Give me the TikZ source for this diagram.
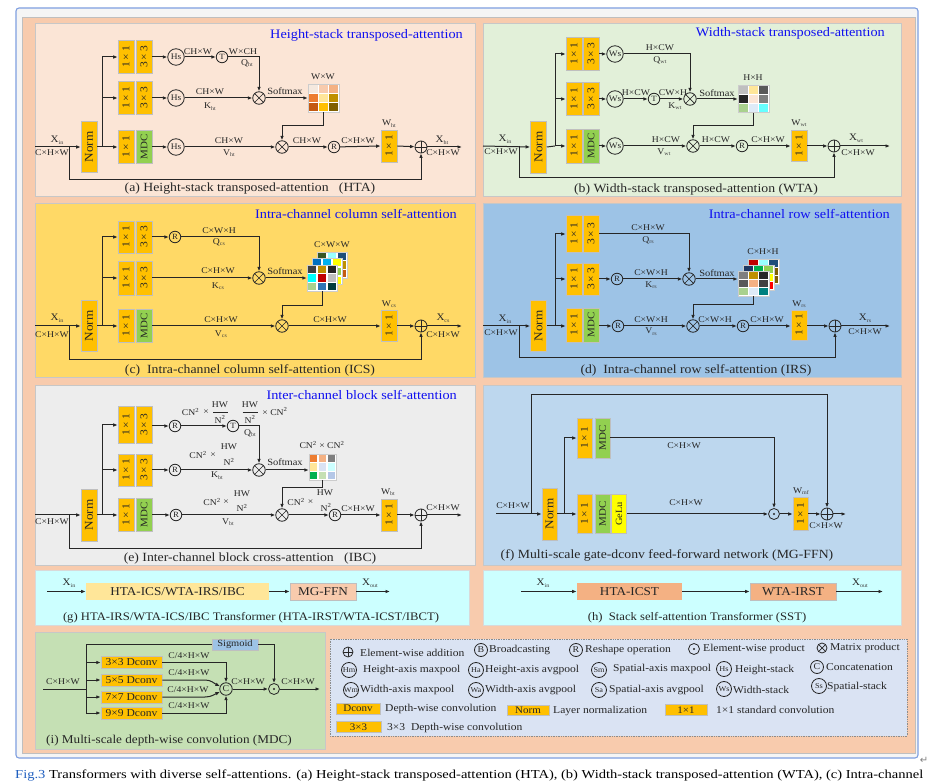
\documentclass[tikz,border=0pt]{standalone}
\usepackage{fontspec}
\setmainfont{Liberation Serif}[FakeStretch=1.1]
\newfontfamily\capfont{Liberation Serif}
\newfontfamily\symfont{DejaVu Sans}
\usetikzlibrary{arrows.meta,calc}
\definecolor{peach}{HTML}{F8CBAD}
\definecolor{pa}{HTML}{FBE5D6}
\definecolor{pb}{HTML}{E2F0D9}
\definecolor{pc}{HTML}{FFD966}
\definecolor{pd}{HTML}{9DC3E6}
\definecolor{pe}{HTML}{EDEDED}
\definecolor{pf}{HTML}{BDD7EE}
\definecolor{pg}{HTML}{CCFFFF}
\definecolor{pi}{HTML}{C5E0B4}
\definecolor{leg}{HTML}{DAE3F3}
\definecolor{org}{HTML}{FFC000}
\definecolor{grn}{HTML}{92D050}
\definecolor{ylw}{HTML}{FFFF00}
\definecolor{ttl}{HTML}{1010F0}
\definecolor{lnc}{HTML}{262626}
\definecolor{bord}{HTML}{BFBFBF}
\definecolor{frm}{HTML}{7F9FE0}
\definecolor{figb}{HTML}{1F5FC0}
\definecolor{lyel}{HTML}{FFE699}
\definecolor{sal}{HTML}{F4B183}
\definecolor{sig}{HTML}{9DC3E6}
\newcommand\fsz[1]{\fontsize{#1}{#1}\selectfont}
\newcommand\rotx[1]{\rotatebox{90}{#1}}
\newcommand\sbs[1]{\raisebox{-1.6pt}{\fsz{5.5}\color{black!75}#1}}
\newcommand\cellgrid[5]{%
  \fill[white] ({#1-#3/2},{#2-#4/2}) rectangle ({#1+#3/2},{#2+#4/2});
  \foreach \mycol [count=\gi from 0] in {#5} {
    \pgfmathsetmacro{\gx}{#1-#3/2+mod(\gi,3)*#3/3}
    \pgfmathsetmacro{\gy}{#2-#4/2+floor(\gi/3)*#4/3}
    \edef\tmpdef{\noexpand\definecolor{tmpc}{HTML}{\mycol}}\tmpdef
    \fill[tmpc] ({\gx+0.7},{\gy+0.7}) rectangle ({\gx+#3/3-0.7},{\gy+#4/3-0.7});
  }
  \draw[bord!80, line width=0.4pt] ({#1-#3/2},{#2-#4/2}) rectangle ({#1+#3/2},{#2+#4/2});
}
\tikzset{
 ln/.style={draw=lnc, line width=1pt},
 arr/.style={ln, -{Latex[length=4.5pt,width=3.6pt]}},
 panel/.style={draw=black!22, line width=1pt},
 cbox/.style={draw=bord, line width=0.6pt, fill=org, inner sep=0pt, minimum width=16, minimum height=33, font=\fsz{10.5}, text=lnc},
 gbox/.style={cbox, fill=grn, font=\fsz{10}},
 ybox/.style={cbox, fill=ylw, font=\fsz{9.5}},
 circ/.style={draw=lnc, line width=0.8pt, circle, inner sep=0pt, minimum size=16.5, font=\fsz{8.5}, text=lnc},
 scirc/.style={circ, minimum size=11.5, font=\fsz{8}},
 otim/.style={circle, draw=lnc, line width=0.8pt, minimum size=12.5, inner sep=0pt,
   path picture={\draw[lnc,line width=0.7pt] (path picture bounding box.north west)--(path picture bounding box.south east) (path picture bounding box.north east)--(path picture bounding box.south west);}},
 oplusst/.style={circle, draw=lnc, line width=0.8pt, minimum size=12, inner sep=0pt,
   path picture={\draw[lnc,line width=0.7pt] (path picture bounding box.north)--(path picture bounding box.south) (path picture bounding box.east)--(path picture bounding box.west);}},
 odotst/.style={circle, draw=lnc, line width=0.8pt, minimum size=11, inner sep=0pt,
   path picture={\fill[lnc] (path picture bounding box.center) circle (1.1pt);}},
 lab/.style={font=\fsz{8.8}, inner sep=0.5pt, text=lnc},
 xlab/.style={font=\fsz{10}, inner sep=0.5pt, text=lnc},
 smx/.style={font=\fsz{9.5}, inner sep=0.5pt, text=lnc},
 ttlst/.style={font=\fsz{13}, text=ttl, anchor=east, inner sep=0pt},
 capst/.style={font=\fsz{12.5}, text=lnc, inner sep=0pt},
 matbg/.style={inner sep=0pt, minimum width=31, minimum height=28},
 tbox/.style={draw=bord, line width=0.6pt, inner sep=0pt, minimum height=17, font=\fsz{12}, text=lnc},
 legt/.style={anchor=west, font=\fsz{10.5}, inner sep=0pt, text=lnc},
 legc/.style={circ, minimum size=15, font=\fsz{7.5}},
 lbox/.style={fill=org, draw=bord, line width=0.6pt, inner sep=0pt, minimum height=10.5, font=\fsz{10}, text=lnc},
 dbox/.style={fill=org, draw=bord, line width=0.5pt, inner sep=0pt, minimum width=61, minimum height=12, font=\fsz{10.5}, text=lnc},
}
\begin{document}
\begin{tikzpicture}[x=1pt,y=-1pt]
\fill[white] (0,0) rectangle (930,783);
\useasboundingbox (0,0) rectangle (930,783);
\draw[frm, line width=1.1pt, fill=black!4, rounded corners=3] (16,8) rectangle (918,758);
\draw[black!25, line width=0.6pt, fill=peach] (22,17) rectangle (915,753);

%% ================= (a) =================
\draw[panel, fill=pa] (35,24) rectangle (475,197);
\node[ttlst] (at) at (463,35) {Height-stack transposed-attention};
\node[cbox, minimum height=51] (aN) at (89,147) {\rotx{\fsz{12}Norm}};
\node[cbox] (a11) at (126,57) {\rotx{1\,×\,1}};
\node[cbox] (a13) at (144,57) {\rotx{3\,×\,3}};
\node[cbox] (a21) at (126,98) {\rotx{1\,×\,1}};
\node[cbox] (a23) at (144,98) {\rotx{3\,×\,3}};
\node[cbox] (a31) at (126,147) {\rotx{1\,×\,1}};
\node[gbox] (a3m) at (144,147) {\rotx{MDC}};
\node[circ] (ah1) at (176,57) {Hs};
\node[circ] (ah2) at (176,98) {Hs};
\node[circ] (ah3) at (176,147) {Hs};
\node[scirc] (aT) at (222,57) {T};
\node[otim] (amul1) at (259,98) {};
\node[matbg] (amat) at (323.5,98) {};
\cellgrid{323.5}{98}{31}{28}{F5E9DF,F8CBAD,F4B183,ED7D31,FFE699,BF9000,C55A11,FFC000,7F6000}
\node[otim] (amul2) at (282,147) {};
\node[scirc] (aR) at (334,147) {R};
\node[cbox, minimum height=32] (aW) at (389,146) {\rotx{1\,×\,1}};
\node[oplusst] (aplus) at (421,147) {};
\coordinate (ain) at (35,147);
\coordinate (abr) at (102,147);
\coordinate (ask) at (69,147);
\coordinate (aout) at (462,147);
\draw[arr] (ain) -- (aN.west);
\draw[ln] (aN.east) -- (abr);
\draw[ln] (abr) -- (abr |- a11.west);
\draw[arr] (abr) -- (a31.west);
\draw[arr] (abr |- a11.west) -- (a11.west);
\draw[arr] (abr |- a21.west) -- (a21.west);
\draw[arr] (ask) -- (69,180) -| (aplus.south);
\draw[arr] (a13.east) -- (ah1.west);
\draw[arr] (a23.east) -- (ah2.west);
\draw[arr] (a3m.east) -- (ah3.west);
\draw[arr] (ah1) -- (aT);
\draw[arr] (aT.east) -| (amul1.north);
\draw[arr] (ah2) -- (amul1);
\draw[arr] (amul1) -- (amat.west);
\draw[arr] (amat.south) -- ++(0,13) -| (amul2.north);
\draw[arr] (ah3) -- (amul2);
\draw[arr] (amul2) -- (aR);
\draw[arr] (aR) -- (aW.west);
\draw[arr] (aW.east) -- (aplus);
\draw[arr] (aplus) -- (aout);
\node[xlab] (axi) at (57,140) {X\sbs{in}};
\node[lab] (axd) at (52,152.5) {C×H×W};
\node[lab] (al1) at (198,52) {CH×W};
\node[lab] (al2) at (243,52) {W×CH};
\node[lab] (aq) at (247,63) {Q\sbs{ht}};
\node[lab] (al3) at (210,92) {CH×W};
\node[lab] (ak) at (210,106.5) {K\sbs{ht}};
\node[smx] (asm) at (285,91) {Softmax};
\node[lab] (aww) at (323,77) {W×W};
\node[lab] (al4) at (229,141) {CH×W};
\node[lab] (av) at (229,153) {V\sbs{ht}};
\node[lab] (al5) at (307,141) {CH×W};
\node[lab] (al6) at (358,141) {C×H×W};
\node[lab] (awl) at (389,123.5) {W\sbs{ht}};
\node[xlab] (axo) at (442,140) {X\sbs{ht}};
\node[lab] (axod) at (443,152.5) {C×H×W};
\node[capst] (acap) at (250,189) {(a) Height-stack transposed-attention~~~(HTA)};

%% ================= (b) =================
\draw[panel, fill=pb] (483,24) rectangle (901,197);
\node[ttlst] (bt) at (885,33) {Width-stack transposed-attention};
\node[cbox, minimum height=52] (bN) at (538.5,147) {\rotx{\fsz{12}Norm}};
\node[cbox] (b11) at (574,54) {\rotx{1\,×\,1}};
\node[cbox] (b13) at (591,54) {\rotx{3\,×\,3}};
\node[cbox] (b21) at (574,99) {\rotx{1\,×\,1}};
\node[cbox] (b23) at (591,99) {\rotx{3\,×\,3}};
\node[cbox, minimum height=34] (b31) at (574,146) {\rotx{1\,×\,1}};
\node[gbox, minimum height=34] (b3m) at (591,146) {\rotx{MDC}};
\node[circ] (bw1) at (615,54) {Ws};
\node[circ] (bw2) at (615,99) {Ws};
\node[circ] (bw3) at (615,146) {Ws};
\node[scirc] (bT) at (654,99) {T};
\node[otim] (bmul1) at (690,99) {};
\node[matbg, minimum height=27] (bmat) at (753.5,99) {};
\cellgrid{753.5}{99}{31}{27}{BFBFBF,FFE699,595959,262626,FBE5D6,7F7F7F,A9D18E,DEEBF7,66FFFF}
\node[otim] (bmul2) at (693,146) {};
\node[scirc] (bR) at (742,146) {R};
\node[cbox, minimum height=31] (bW) at (799,146) {\rotx{1\,×\,1}};
\node[oplusst] (bplus) at (834,146) {};
\coordinate (bin) at (483,146);
\coordinate (bbr) at (555,146);
\coordinate (bsk) at (519,146);
\coordinate (bout) at (890,146);
\draw[arr] (bin) -- (bN.west);
\draw[ln] (bN.east) -- (bbr);
\draw[ln] (bbr) -- (bbr |- b11.west);
\draw[arr] (bbr) -- (b31.west);
\draw[arr] (bbr |- b11.west) -- (b11.west);
\draw[arr] (bbr |- b21.west) -- (b21.west);
\draw[arr] (bsk) -- (519,178) -| (bplus.south);
\draw[arr] (b13.east) -- (bw1.west);
\draw[arr] (b23.east) -- (bw2.west);
\draw[arr] (b3m.east) -- (bw3.west);
\draw[arr] (bw1) -| (bmul1.north);
\draw[arr] (bw2) -- (bT);
\draw[arr] (bT) -- (bmul1);
\draw[arr] (bmul1) -- (bmat.west);
\draw[arr] (bmat.south) -- ++(0,13) -| (bmul2.north);
\draw[arr] (bw3) -- (bmul2);
\draw[arr] (bmul2) -- (bR);
\draw[arr] (bR) -- (bW.west);
\draw[arr] (bW.east) -- (bplus);
\draw[arr] (bplus) -- (bout);
\node[xlab] (bxi) at (505,139.5) {X\sbs{in}};
\node[lab] (bxd) at (501,152) {C×H×W};
\node[lab] (bl1) at (660,48) {H×CW};
\node[lab] (bq) at (660,60) {Q\sbs{wt}};
\node[lab] (bl2) at (636,93) {H×CW};
\node[lab] (bl3) at (673,93) {CW×H};
\node[lab] (bk) at (675,106) {K\sbs{wt}};
\node[smx] (bsm) at (717,93) {Softmax};
\node[lab] (bhh) at (753,78) {H×H};
\node[lab] (bl4) at (666,140) {H×CW};
\node[lab] (bv) at (664,152) {V\sbs{wt}};
\node[lab] (bl5) at (716,140) {H×CW};
\node[lab] (bl6) at (768,140) {C×H×W};
\node[lab] (bwl) at (799,123) {W\sbs{wt}};
\node[xlab] (bxo) at (856,138.5) {X\sbs{wt}};
\node[lab] (bxod) at (858,152.5) {C×H×W};
\node[capst] (bcap) at (696,189) {(b) Width-stack transposed-attention (WTA)};

%% ================= (c) =================
\draw[panel, fill=pc] (35,204) rectangle (475,378);
\node[ttlst] (ct) at (457,214) {Intra-channel column self-attention};
\node[cbox, minimum height=51] (cN) at (89,326) {\rotx{\fsz{12}Norm}};
\node[cbox, minimum height=32] (c11) at (126,237) {\rotx{1\,×\,1}};
\node[cbox, minimum height=32] (c13) at (144,237) {\rotx{3\,×\,3}};
\node[cbox, minimum height=34] (c21) at (126,278) {\rotx{1\,×\,1}};
\node[cbox, minimum height=34] (c23) at (144,278) {\rotx{3\,×\,3}};
\node[cbox] (c31) at (126,326) {\rotx{1\,×\,1}};
\node[gbox] (c3m) at (144,326) {\rotx{MDC}};
\node[scirc] (cR1) at (175,237) {R};
\node[otim] (cmul1) at (259,278) {};
\node[matbg, minimum width=30, minimum height=26] (cmat) at (322,278) {};
\cellgrid{332}{265}{30}{26}{375623,99FFFF,1F4E79,92D050,FFFF00,BF9000,00B050,FFFF00,C55A11}
\cellgrid{327}{271.5}{30}{26}{0070C0,00B0F0,FFFF00,1F4E79,92D050,92D050,7F6000,FFFF00,FFFF00}
\cellgrid{322}{278}{30}{26}{404040,BF9000,262626,00FFFF,C00000,BFBFBF,A9D18E,2E75B6,003B3B}
\node[otim] (cmul2) at (282,326) {};
\node[cbox, minimum height=31] (cW) at (389,326) {\rotx{1\,×\,1}};
\node[oplusst] (cplus) at (421,326) {};
\coordinate (cin) at (35,326);
\coordinate (cbr) at (102,326);
\coordinate (csk) at (69,326);
\coordinate (cout) at (462,326);
\draw[arr] (cin) -- (cN.west);
\draw[ln] (cN.east) -- (cbr);
\draw[ln] (cbr) -- (cbr |- c11.west);
\draw[arr] (cbr) -- (c31.west);
\draw[arr] (cbr |- c11.west) -- (c11.west);
\draw[arr] (cbr |- c21.west) -- (c21.west);
\draw[arr] (csk) -- (69,360) -| (cplus.south);
\draw[arr] (c13.east) -- (cR1.west);
\draw[arr] (cR1) -| (cmul1.north);
\draw[arr] (c23.east) -- (cmul1);
\draw[arr] (cmul1) -- (cmat.west);
\draw[arr] (cmat.south) -- ++(0,14) -| (cmul2.north);
\draw[arr] (c3m.east) -- (cmul2);
\draw[arr] (cmul2) -- (cW.west);
\draw[arr] (cW.east) -- (cplus);
\draw[arr] (cplus) -- (cout);
\node[xlab] (cxi) at (57,318) {X\sbs{in}};
\node[lab] (cxd) at (52,335) {C×H×W};
\node[lab] (cl1) at (219,231) {C×W×H};
\node[lab] (cq) at (219,242) {Q\sbs{cs}};
\node[lab] (cl2) at (218,271) {C×H×W};
\node[lab] (ck) at (218,286) {K\sbs{cs}};
\node[smx] (csm) at (285,271) {Softmax};
\node[lab] (cww) at (332,245) {C×W×W};
\node[lab] (cl3) at (221,320) {C×H×W};
\node[lab] (cv) at (221,334) {V\sbs{cs}};
\node[lab] (cl4) at (330,320) {C×H×W};
\node[lab] (cwl) at (389,304) {W\sbs{cs}};
\node[xlab] (cxo) at (443,318) {X\sbs{cs}};
\node[lab] (cxod) at (443,335) {C×H×W};
\node[capst] (ccap) at (250,370) {(c)~ Intra-channel column self-attention (ICS)};

%% ================= (d) =================
\draw[panel, fill=pd] (483,204) rectangle (901,378);
\node[ttlst] (dt) at (890,214) {Intra-channel row self-attention};
\node[cbox, minimum height=51] (dN) at (538.5,326) {\rotx{\fsz{12}Norm}};
\node[cbox, minimum height=37] (d11) at (574,234) {\rotx{1\,×\,1}};
\node[cbox, minimum height=37] (d13) at (591,234) {\rotx{3\,×\,3}};
\node[cbox, minimum height=32] (d21) at (574,279) {\rotx{1\,×\,1}};
\node[cbox, minimum height=32] (d23) at (591,279) {\rotx{3\,×\,3}};
\node[cbox, minimum height=34] (d31) at (574,325) {\rotx{1\,×\,1}};
\node[gbox, minimum height=34] (d3m) at (591,325) {\rotx{MDC}};
\node[scirc] (dR2) at (617,279) {R};
\node[otim] (dmul1) at (689,279) {};
\node[matbg, minimum width=31, minimum height=25] (dmat) at (753.5,283.5) {};
\cellgrid{763.5}{271.5}{31}{25}{C00000,99FFFF,1F4E79,00B050,92D050,7F6000,404040,FF0000,7F6000}
\cellgrid{758.5}{277.5}{31}{25}{1F3864,00B050,92D050,7F7F7F,00B050,FFFF00,404040,7F7F7F,FF0000}
\cellgrid{753.5}{283.5}{31}{25}{7F7F7F,BF9000,262626,595959,F4B183,404040,A9D18E,DEEBF7,00807F}
\node[otim] (dmul2) at (693,326) {};
\node[scirc] (dR3) at (618,326) {R};
\node[scirc] (dR4) at (743,326) {R};
\node[cbox, minimum height=30] (dW) at (799,325) {\rotx{1\,×\,1}};
\node[oplusst] (dplus) at (835,326) {};
\coordinate (din) at (483,326);
\coordinate (dbr) at (555,326);
\coordinate (dsk) at (519,326);
\coordinate (dout) at (890,326);
\draw[arr] (din) -- (dN.west);
\draw[ln] (dN.east) -- (dbr);
\draw[ln] (dbr) -- (dbr |- d11.west);
\draw[arr] (dbr) -- (d31.west |- dbr);
\draw[arr] (dbr |- d11.west) -- (d11.west);
\draw[arr] (dbr |- d21.west) -- (d21.west);
\draw[arr] (dsk) -- (519,358) -| (dplus.south);
\draw[arr] (d13.east) -| (dmul1.north);
\draw[arr] (d23.east) -- (dR2.west);
\draw[arr] (dR2) -- (dmul1);
\draw[arr] (dmul1) -- (dmat.west |- dmul1);
\draw[arr] (dmat.south) -- ++(0,8) -| (dmul2.north);
\draw[arr] (d3m.east |- dR3) -- (dR3.west);
\draw[arr] (dR3) -- (dmul2);
\draw[arr] (dmul2) -- (dR4);
\draw[arr] (dR4) -- (dW.west |- dR4);
\draw[arr] (dW.east |- dplus) -- (dplus);
\draw[arr] (dplus) -- (dout);
\node[xlab] (dxi) at (505,319.5) {X\sbs{in}};
\node[lab] (dxd) at (501,333) {C×H×W};
\node[lab] (dl1) at (648,228) {C×H×W};
\node[lab] (dq) at (648,240) {Q\sbs{rs}};
\node[lab] (dl2) at (651,273) {C×W×H};
\node[lab] (dk) at (651,285) {K\sbs{rs}};
\node[smx] (dsm) at (717,273) {Softmax};
\node[lab] (dhh) at (763,252) {C×H×H};
\node[lab] (dl3) at (651,319.5) {C×W×H};
\node[lab] (dv) at (651,331.5) {V\sbs{rs}};
\node[lab] (dl4) at (715,319.5) {C×W×H};
\node[lab] (dl5) at (767,319.5) {C×H×W};
\node[lab] (dwl) at (799,304) {W\sbs{rs}};
\node[xlab] (dxo) at (865,318.5) {X\sbs{rs}};
\node[lab] (dxod) at (865,331.5) {C×H×W};
\node[capst] (dcap) at (696,370) {(d)~ Intra-channel row self-attention (IRS)};

%% ================= (e) =================
\draw[panel, fill=pe] (35,386) rectangle (475,566);
\node[ttlst] (et) at (457,395) {Inter-channel block self-attention};
\node[cbox, minimum height=52] (eN) at (89,515) {\rotx{\fsz{12}Norm}};
\node[cbox, minimum height=37] (e11) at (126,425) {\rotx{1\,×\,1}};
\node[cbox, minimum height=37] (e13) at (144,425) {\rotx{3\,×\,3}};
\node[cbox, minimum height=32] (e21) at (126,470) {\rotx{1\,×\,1}};
\node[cbox, minimum height=32] (e23) at (144,470) {\rotx{3\,×\,3}};
\node[cbox] (e31) at (126,515) {\rotx{1\,×\,1}};
\node[gbox] (e3m) at (144,515) {\rotx{MDC}};
\node[scirc] (eR1) at (175,426) {R};
\node[scirc] (eR2) at (175,470) {R};
\node[scirc] (eR3) at (176,515) {R};
\node[scirc] (eT) at (233,426) {T};
\node[otim] (emul1) at (259,470) {};
\node[matbg, minimum width=27, minimum height=26] (emat) at (322.5,467) {};
\cellgrid{322.5}{467}{27}{26}{ED7D31,F4B183,7F7F7F,FFE699,DAE3F3,CCFFFF,00B050,C5E0B4,B4C7E7}
\node[otim] (emul2) at (282,515) {};
\node[scirc] (eR4) at (335,515) {R};
\node[cbox, minimum height=32] (eW) at (389,515) {\rotx{1\,×\,1}};
\node[oplusst] (eplus) at (421,515) {};
\coordinate (ein) at (35,515);
\coordinate (ebr) at (102,515);
\coordinate (esk) at (69,515);
\coordinate (eout) at (462,515);
\draw[arr] (ein) -- (eN.west);
\draw[ln] (eN.east) -- (ebr);
\draw[ln] (ebr) -- (ebr |- e11.west);
\draw[arr] (ebr) -- (e31.west);
\draw[arr] (ebr |- e11.west) -- (e11.west);
\draw[arr] (ebr |- e21.west) -- (e21.west);
\draw[arr] (esk) -- (69,549) -| (eplus.south);
\draw[arr] (e13.east |- eR1) -- (eR1.west);
\draw[arr] (e23.east) -- (eR2.west);
\draw[arr] (e3m.east) -- (eR3.west);
\draw[arr] (eR1) -- (eT);
\draw[arr] (eT.east) -| (emul1.north);
\draw[arr] (eR2) -- (emul1);
\draw[arr] (emul1) -- (emat.west |- emul1);
\draw[arr] (emat.south) -- ++(0,7) -| (emul2.north);
\draw[arr] (eR3) -- (emul2);
\draw[arr] (emul2) -- (eR4);
\draw[arr] (eR4) -- (eW.west);
\draw[arr] (eW.east) -- (eplus);
\draw[arr] (eplus) -- (eout);
\node[lab] (exd) at (52,522) {C×H×W};
% row 1 labels
\node[lab] (e1a) at (190.5,412) {CN\textsuperscript{2}};
\node[lab] (e1b) at (206,412) {×};
\node[lab] (e1c) at (220,405) {HW};
\draw[lnc, line width=0.5pt] (213,412.5) -- (228,412.5);
\node[lab] (e1d) at (220,419.5) {N\textsuperscript{2}};
\node[lab] (e1e) at (250,405) {HW};
\draw[lnc, line width=0.5pt] (242.5,412.5) -- (257.5,412.5);
\node[lab] (e1f) at (250,419.5) {N\textsuperscript{2}};
\node[lab] (e1g) at (275,411.5) {× CN\textsuperscript{2}};
\node[lab] (eq) at (250,433) {Q\sbs{bt}};
% row 2 labels
\node[lab] (e2a) at (198,455) {CN\textsuperscript{2}};
\node[lab] (e2b) at (213,455) {×};
\node[lab] (e2c) at (229,447) {HW};
\node[lab] (e2d) at (229,462) {N\textsuperscript{2}};
\node[lab] (ek) at (217,475.5) {K\sbs{bt}};
\node[smx] (esm) at (285,462) {Softmax};
\node[lab] (ecc) at (322,445) {CN\textsuperscript{2} × CN\textsuperscript{2}};
% row 3 labels
\node[lab] (e3a) at (212,502) {CN\textsuperscript{2}};
\node[lab] (e3b) at (226,502) {×};
\node[lab] (e3c) at (242,494) {HW};
\node[lab] (e3d) at (242,508) {N\textsuperscript{2}};
\node[lab] (ev) at (228,522) {V\sbs{bt}};
\node[lab] (e4a) at (296,502) {CN\textsuperscript{2}};
\node[lab] (e4b) at (310.5,502) {×};
\node[lab] (e4c) at (325,493) {HW};
\node[lab] (e4d) at (326,507.5) {N\textsuperscript{2}};
\node[lab] (el6) at (358,508.5) {C×H×W};
\node[lab] (ewl) at (388,492) {W\sbs{bt}};
\node[lab] (exod) at (443,507.5) {C×H×W};
\node[capst] (ecap) at (250,558) {(e) Inter-channel block cross-attention~~~(IBC)};

%% ================= (f) =================
\draw[panel, fill=pf] (483,386) rectangle (901,566);
\node[cbox, minimum width=15, minimum height=52] (fN) at (549.5,514) {\rotx{\fsz{12}Norm}};
\node[cbox, minimum width=15, minimum height=40] (f11t) at (584.5,438) {\rotx{1\,×\,1}};
\node[gbox, minimum width=15, minimum height=40] (fmdt) at (602.5,438) {\rotx{MDC}};
\node[cbox, minimum width=15, minimum height=39] (f11b) at (584.5,514) {\rotx{1\,×\,1}};
\node[gbox, minimum width=15, minimum height=39] (fmdb) at (602.5,514) {\rotx{MDC}};
\node[ybox, minimum width=15, minimum height=39] (fgel) at (619,514) {\rotx{GeLu}};
\node[odotst] (fdot) at (774,514) {};
\node[cbox, minimum width=15] (fW) at (800.5,514) {\rotx{1\,×\,1}};
\node[oplusst] (fplus) at (827,514) {};
\coordinate (fin) at (496,514);
\coordinate (fsk) at (531,514);
\coordinate (fbr) at (564,514);
\coordinate (fout) at (846,514);
\draw[arr] (fin) -- (fN.west);
\draw[arr] (fsk) -- (531,395) -| (fplus.north);
\draw[ln] (fN.east) -- (fbr);
\draw[ln] (fbr) -- (fbr |- f11t.west);
\draw[arr] (fbr) -- (f11b.west);
\draw[arr] (fbr |- f11t.west) -- (f11t.west);
\draw[arr] (fmdt.east) -| (fdot.north);
\draw[arr] (fgel.east) -- (fdot);
\draw[arr] (fdot) -- (fW.west);
\draw[arr] (fW.east) -- (fplus);
\draw[arr] (fplus) -- (fout);
\node[lab] (fxd) at (513,506) {C×H×W};
\node[lab] (fl1) at (684,446) {C×H×W};
\node[lab] (fl2) at (686,503) {C×H×W};
\node[lab] (fwl) at (801,491) {W\sbs{mf}};
\node[lab] (fxod) at (826,526) {C×H×W};
\node[capst] (fcap) at (667,555) {(f) Multi-scale gate-dconv feed-forward network (MG-FFN)};

%% ================= (g) =================
\draw[panel, draw=black!15, fill=pg] (35,571) rectangle (469,625);
\node[tbox, draw=none, fill=lyel, minimum width=183] (gA) at (177.5,591.5) {HTA-ICS/WTA-IRS/IBC};
\node[tbox, fill=peach, minimum width=66] (gB) at (323,591.5) {MG-FFN};
\coordinate (gin) at (47,591.5);
\coordinate (gout) at (390,591.5);
\draw[arr] (gin) -- (gA.west);
\draw[arr] (gA.east) -- (gB.west);
\draw[arr] (gB.east) -- (gout);
\node[xlab] (gxi) at (69,583) {X\sbs{in}};
\node[xlab] (gxo) at (370,583.5) {X\sbs{out}};
\node[font=\fsz{11.5}, text=lnc, inner sep=0pt] (gcap) at (251,618) {(g) HTA-IRS/WTA-ICS/IBC Transformer (HTA-IRST/WTA-ICST/IBCT)};

%% ================= (h) =================
\draw[panel, draw=black!15, fill=pg] (483,571) rectangle (901,625);
\node[tbox, draw=none, fill=sal, minimum width=105] (hA) at (629.5,591.5) {HTA-ICST};
\node[tbox, fill=sal, minimum width=86] (hB) at (793,591.5) {WTA-IRST};
\coordinate (hin) at (521,591.5);
\coordinate (hout) at (883,591.5);
\draw[arr] (hin) -- (hA.west);
\draw[arr] (hA.east) -- (hB.west);
\draw[arr] (hB.east) -- (hout);
\node[xlab] (hxi) at (543,583) {X\sbs{in}};
\node[xlab] (hxo) at (860,583.5) {X\sbs{out}};
\node[font=\fsz{11.5}, text=lnc, inner sep=0pt] (hcap) at (697,618) {(h)~ Stack self-attention Transformer (SST)};

%% ================= (i) =================
\draw[panel, fill=pi] (35,632) rectangle (325,749);
\node[fill=sig, draw=bord, line width=0.5pt, inner sep=0pt, minimum width=46, minimum height=11, font=\fsz{9.5}, text=lnc] (iS) at (235,644.5) {Sigmoid};
\node[dbox] (i3) at (131.5,662.5) {3×3 Dconv};
\node[dbox] (i5) at (131.5,680) {5×5 Dconv};
\node[dbox] (i7) at (131.5,697) {7×7 Dconv};
\node[dbox] (i9) at (131.5,713) {9×9 Dconv};
\node[scirc, minimum size=12.5, font=\fsz{9}] (iC) at (226,689) {C};
\node[odotst] (idot) at (274,689) {};
\coordinate (iin) at (43,689);
\coordinate (ibr) at (86,689);
\coordinate (iout) at (320,689);
\draw[ln] (iin) -- (ibr);
\draw[ln] (ibr |- iS.west) -- (ibr |- i9.west);
\draw[ln] (ibr |- iS.west) -- (iS.west);
\draw[arr] (iS.east) -| (idot.north);
\draw[arr] (ibr |- i3.west) -- (i3.west);
\draw[arr] (ibr |- i5.west) -- (i5.west);
\draw[arr] (ibr |- i7.west) -- (i7.west);
\draw[arr] (ibr |- i9.west) -- (i9.west);
\draw[arr] (i3.east) -| (iC.north);
\draw[arr] (i5.east) -- (205,680) to[out=0,in=155] (iC.155);
\draw[arr] (i7.east) -- (205,697) to[out=0,in=205] (iC.205);
\draw[arr] (i9.east) -| (iC.south);
\draw[arr] (iC) -- (idot);
\draw[arr] (idot) -- (iout);
\node[lab] (ixd) at (63,682) {C×H×W};
\node[lab] (il1) at (189,656) {C/4×H×W};
\node[lab] (il2) at (189,673) {C/4×H×W};
\node[lab] (il3) at (188,690) {C/4×H×W};
\node[lab] (il4) at (189,706) {C/4×H×W};
\node[lab] (il5) at (248,682) {C×H×W};
\node[lab] (il6) at (298,682) {C×H×W};
\node[font=\fsz{12}, text=lnc, inner sep=0pt, anchor=west] (icap) at (46,741) {(i) Multi-scale depth-wise convolution (MDC)};

%% ================= legend =================
\draw[black!45, densely dotted, fill=leg, line width=0.7pt] (330,639) rectangle (907,736);
\node[oplusst, minimum size=10] (lg1) at (348,652) {};
\node[legt] (lt1) at (360,652.5) {Element-wise addition};
\node[legc, minimum size=13, font=\fsz{9}] (lg2) at (481,650) {B};
\node[legt] (lt2) at (489,650) {Broadcasting};
\node[legc, minimum size=13, font=\fsz{9}] (lg3) at (576,650) {R};
\node[legt] (lt3) at (585,650) {Reshape operation};
\node[odotst] (lg4) at (694,649) {};
\node[legt] (lt4) at (703,649) {Element-wise product};
\node[otim, minimum size=10] (lg5) at (822,648) {};
\node[legt] (lt5) at (830,648) {Matrix product};
\node[legc] (lg6) at (349,670) {Hm};
\node[legt] (lt6) at (363,669.5) {Height-axis maxpool};
\node[legc] (lg7) at (476,670) {Ha};
\node[legt] (lt7) at (485,669.5) {Height-axis avgpool};
\node[legc] (lg8) at (599,670) {Sm};
\node[legt] (lt8) at (613,668.5) {Spatial-axis maxpool};
\node[legc] (lg9) at (724,669) {Hs};
\node[legt] (lt9) at (735,669.5) {Height-stack};
\node[legc, minimum size=13, font=\fsz{9}] (lg10) at (817,667) {C};
\node[legt] (lt10) at (826,667) {Concatenation};
\node[legc] (lg11) at (351,690) {Wm};
\node[legt] (lt11) at (360,690) {Width-axis maxpool};
\node[legc] (lg12) at (476,690) {Wa};
\node[legt] (lt12) at (485,690) {Width-axis avgpool};
\node[legc] (lg13) at (599,690) {Sa};
\node[legt] (lt13) at (609,690) {Spatial-axis avgpool};
\node[legc] (lg14) at (724,689) {Ws};
\node[legt] (lt14) at (733,690) {Width-stack};
\node[legc] (lg15) at (819,686) {Ss};
\node[legt] (lt15) at (827,687) {Spatial-stack};
\node[lbox, minimum width=44, minimum height=11] (lb1) at (358,708.5) {Dconv};
\node[legt] (lt16) at (385,709) {Depth-wise convolution};
\node[lbox, minimum width=42] (lb2) at (528,710.5) {Norm};
\node[legt] (lt17) at (553,711) {Layer normalization};
\node[lbox, minimum width=42] (lb3) at (686,710) {1×1};
\node[legt] (lt18) at (716,710) {1×1 standard convolution};
\node[lbox, minimum width=45] (lb4) at (358.5,727) {3×3};
\node[legt] (lt19) at (387,728) {3×3~ Depth-wise convolution};

%% ================= caption =================
\node[text=black!50, font=\symfont\fsz{10}, inner sep=0pt] (ret) at (924,760) {↵};
\node[anchor=base west, inner sep=0pt] (cap) at (15,778.5) {\resizebox{908pt}{8.6pt}{\capfont\fsz{12}\textcolor{figb}{Fig.3} Transformers with diverse self-attentions. (a) Height-stack transposed-attention (HTA), (b) Width-stack transposed-attention (WTA), (c) Intra-channel}};
\end{tikzpicture}
\end{document}
